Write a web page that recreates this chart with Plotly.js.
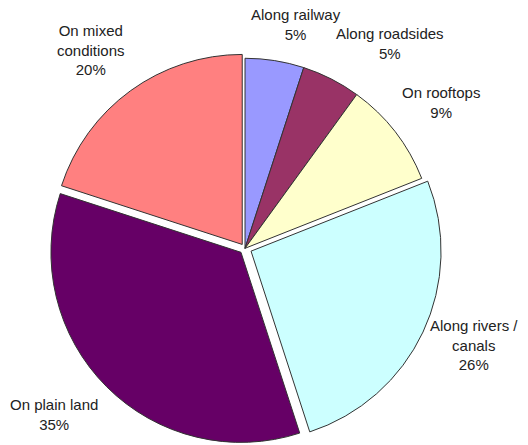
<!DOCTYPE html>
<html>
<head>
<meta charset="utf-8">
<script src="https://cdn.plot.ly/plotly-3.0.1.min.js"></script>
<style>html,body{margin:0;padding:0;background:#fff;}#chart{width:528px;height:445px;}</style>
</head>
<body>
<div id="chart"></div>
<script>
// Data
var categories = ["Along railway", "Along roadsides", "On rooftops", "Along rivers / canals", "On plain land", "On mixed conditions"];
var displayLabels = ["Along railway", "Along roadsides", "On rooftops", "Along rivers /<br>canals", "On plain land", "On mixed<br>conditions"];
var values = [5, 5, 9, 26, 35, 20];

// Styles
var colors = ["#9999FF", "#993366", "#FFFFCC", "#CCFFFF", "#660066", "#FF8080"];
var pulls = [0, 0, 0, 0.035, 0.03, 0.025];
var labelPos = [[296, 24.5], [390, 43], [441, 102.5], [474, 345], [54, 414], [91, 50]];

var W = 528, H = 445;
var total = values.reduce(function(a, b){ return a + b; }, 0);

var annotations = categories.map(function(c, i){
  return {
    xref: 'paper', yref: 'paper',
    x: labelPos[i][0] / W, y: 1 - labelPos[i][1] / H,
    xanchor: 'center', yanchor: 'middle', align: 'center',
    showarrow: false,
    text: displayLabels[i] + '<br>' + Math.round(values[i] / total * 100) + '%',
    font: {family: 'Liberation Sans, Arial, sans-serif', size: 15, color: '#222'}
  };
});

var trace = {
  type: 'pie',
  labels: categories,
  values: values,
  sort: false,
  direction: 'clockwise',
  rotation: 0,
  pull: pulls,
  marker: {colors: colors, line: {color: '#333333', width: 1}},
  textinfo: 'none',
  hoverinfo: 'label+percent',
  showlegend: false,
  domain: {x: [0.0915, 0.8366], y: [0, 0.884]}
};

var layout = {
  width: W, height: H,
  margin: {l: 0, r: 0, t: 0, b: 0},
  paper_bgcolor: '#ffffff',
  showlegend: false,
  annotations: annotations
};

Plotly.newPlot('chart', [trace], layout, {displayModeBar: false, staticPlot: true});
</script>
</body>
</html>
